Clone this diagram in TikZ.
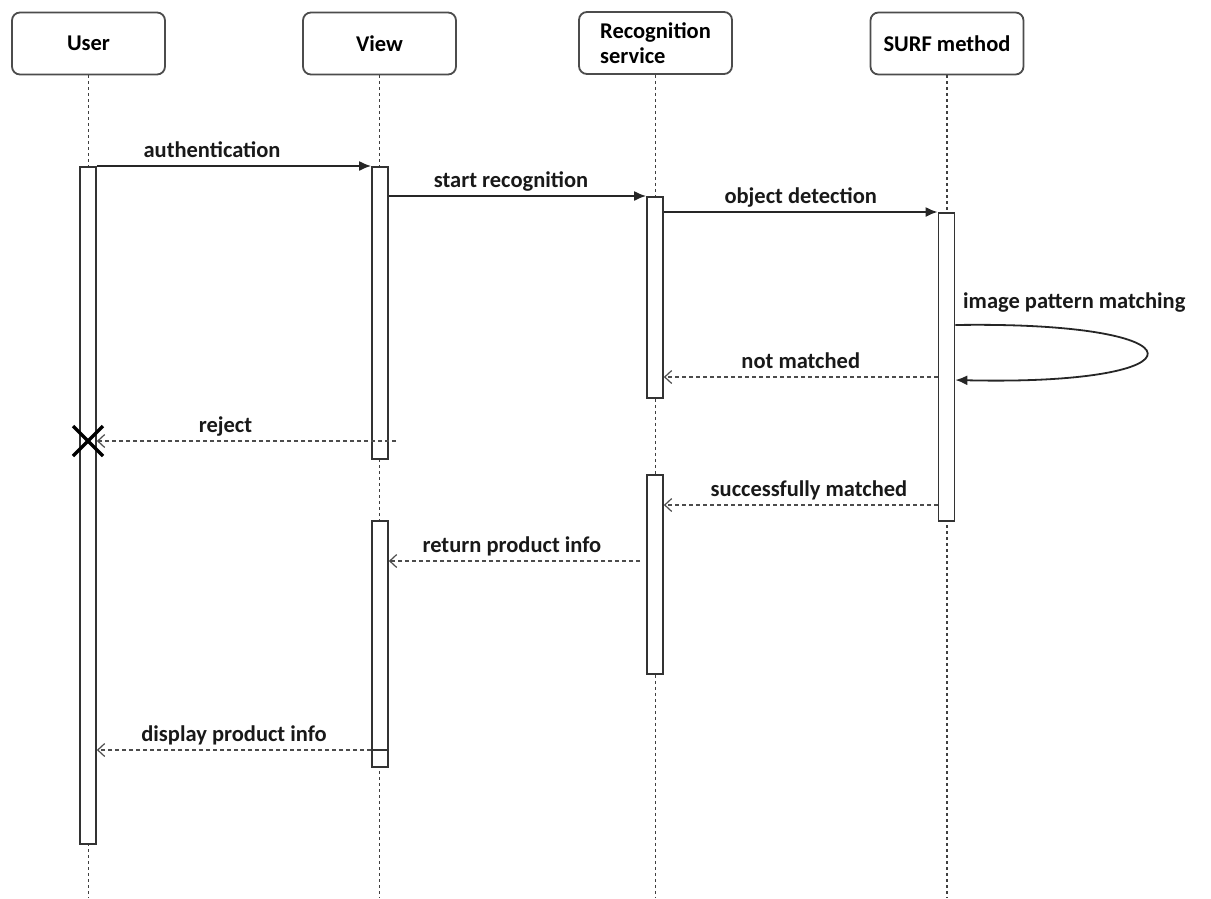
\documentclass[tikz,border=0pt]{standalone}
\usepackage{fontspec}
\setmainfont{Carlito}
\usetikzlibrary{arrows.meta}

\tikzset{
	head/.style={draw=black!70, line width=1.8pt, rounded corners=8pt, fill=white,
		minimum width=153pt, minimum height=62pt, inner sep=2pt},
	life/.style={black!75, line width=1.4pt, dash pattern=on 3pt off 3pt},
	bar/.style={draw=black!80, fill=white, line width=1.7pt, minimum width=16pt,
		inner sep=0pt, anchor=north},
	call/.style={black!85, line width=1.8pt, -{Latex[length=12pt, width=10pt]}},
	reply/.style={black!70, line width=1.6pt, dash pattern=on 4pt off 3pt,
		-{Straight Barb[length=7pt, width=13pt, line width=1.2pt]}},
	lbl/.style={anchor=base, yshift=9pt, inner sep=0pt, text=black!90},
}

\begin{document}
\begin{tikzpicture}[x=1pt, y=-1pt, font=\fontsize{22.5}{25}\selectfont\bfseries]
	\useasboundingbox (0,0) rectangle (1211,898);
	% Objects.
	\node[head] (user) at (88.5,43.5) {User};
	\node[head] (view) at (379.5,43.5) {View};
	\node[head, align=left] (recog) at (655.5,43) {Recognition\\service};
	\node[head] (surf) at (947,43.5) {SURF method};
	% Lifelines.
	\draw[life] (user.south) -- (88.5,898);
	\draw[life] (view.south) -- (379.5,898);
	\draw[life] (recog.south) -- (655.5,898);
	\draw[life] (surf.south) -- (947,898);
	% Activations.
	\node[bar, minimum height=677pt] (ubar) at (88,166) {};
	\node[bar, minimum height=292pt] (vbar1) at (380,166) {};
	\node[bar, minimum height=201pt] (rbar1) at (655,196) {};
	\node[bar, minimum height=308pt] (sbar) at (946.5,212) {};
	\node[bar, minimum height=199pt] (rbar2) at (655,474) {};
	\node[bar, minimum height=246pt] (vbar2) at (380,520) {};
	% Calls.
	\draw[call] (ubar.north east) -- (vbar1.north west)
		node[lbl, pos=0.42] {authentication};
	\draw[call] (vbar1.east |- rbar1.north) -- (rbar1.north west)
		node[lbl, pos=0.475] {start recognition};
	\draw[call] (rbar1.east |- sbar.north) -- (sbar.north west)
		node[lbl, pos=0.5] {object detection};
	\draw[call] (sbar.east |- 0,325) .. controls (1210,321) and (1210,386) .. (sbar.east |- 0,380);
	\node[lbl, anchor=base west] (selfmsg) at (963,317) {image pattern matching};
	% Replies.
	\draw[reply] (sbar.west |- 0,377) -- (rbar1.east |- 0,377)
		node[lbl, pos=0.5] {not matched};
	\coordinate (rejfrom) at (396,441);
	\draw[reply] (rejfrom) -- (ubar.east |- rejfrom)
		node[lbl, pos=0.57] {reject};
	\draw[black, line width=3.2pt] (ubar |- rejfrom) ++(-15,-15) -- ++(30,30);
	\draw[black, line width=3.2pt] (ubar |- rejfrom) ++(-15,15) -- ++(30,-30);
	\draw[reply] (sbar.west |- 0,505) -- (rbar2.east |- 0,505)
		node[lbl, pos=0.47] {successfully matched};
	\coordinate (retfrom) at (640,561);
	\draw[reply] (retfrom) -- (vbar2.east |- retfrom)
		node[lbl, pos=0.51] {return product info};
	\draw[black!80, line width=1.6pt] (vbar2.west |- 0,750) -- (vbar2.east |- 0,750);
	\draw[reply] (vbar2.west |- 0,750) -- (ubar.east |- 0,750)
		node[lbl, pos=0.5] {display product info};
\end{tikzpicture}
\end{document}
